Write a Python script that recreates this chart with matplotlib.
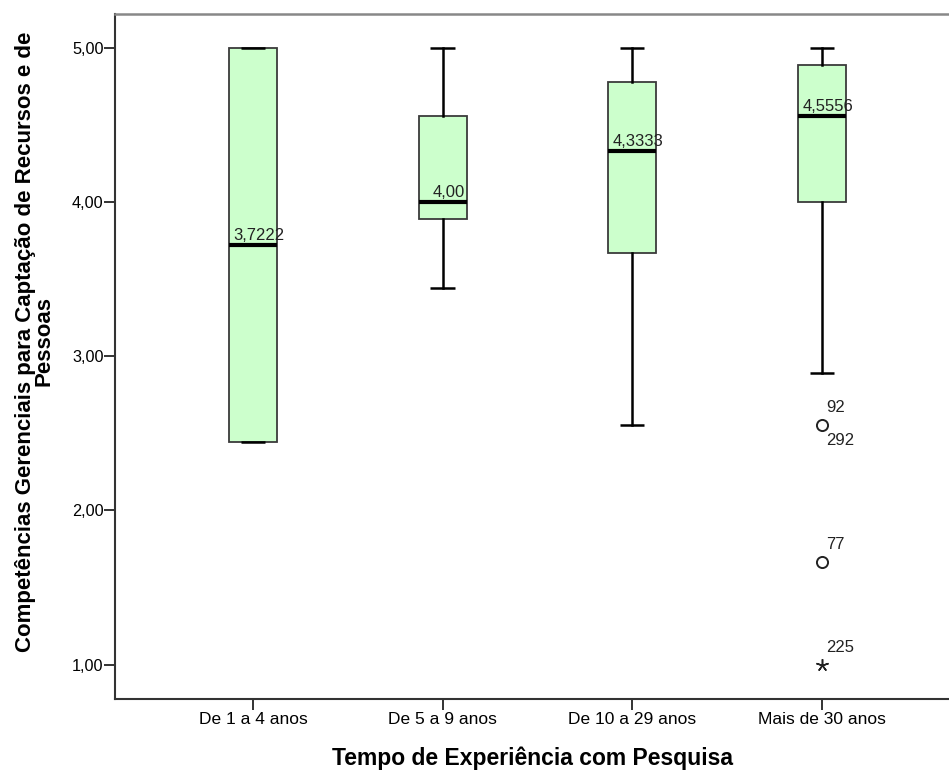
import matplotlib
matplotlib.use("Agg")
import matplotlib.pyplot as plt

plt.rcParams['font.family'] = ['Liberation Sans', 'DejaVu Sans']

# Five-number summaries per experience group
categories = ["De 1 a 4 anos", "De 5 a 9 anos", "De 10 a 29 anos", "Mais de 30 anos"]
medians = [3.7222, 4.0000, 4.3333, 4.5556]
q1 = [2.4444, 3.8889, 3.6667, 4.0000]
q3 = [5.0000, 4.5556, 4.7778, 4.8889]
whisker_low = [2.4444, 3.4444, 2.5556, 2.8889]
whisker_high = [5.0000, 5.0000, 5.0000, 5.0000]
median_labels = ["3,7222", "4,00", "4,3333", "4,5556"]

# Outliers (group index, value) and extremes
outlier_group = [3, 3]
outlier_values = [2.5556, 1.6667]
extreme_group = [3]
extreme_values = [1.0]
case_labels = [(3, 2.5556, "92", "above"), (3, 2.5556, "292", "below"),
               (3, 1.6667, "77", "above"), (3, 1.0, "225", "above")]

y_ticks = [1, 2, 3, 4, 5]
y_tick_labels = ["1,00", "2,00", "3,00", "4,00", "5,00"]

W, H = 949, 771
fig = plt.figure(figsize=(W / 100, H / 100), dpi=100)
ax = fig.add_axes([115 / W, 1 - 699 / H, 1 - 115 / W, (699 - 14) / H])

positions = list(range(1, len(categories) + 1))
stats = []
for i in range(len(categories)):
    stats.append(dict(med=medians[i], q1=q1[i], q3=q3[i],
                      whislo=whisker_low[i], whishi=whisker_high[i], fliers=[]))

fill = "#ccffcc"
ax.bxp(stats, positions=positions, widths=0.253, capwidths=0.127,
       showfliers=False, patch_artist=True,
       boxprops=dict(facecolor=fill, edgecolor="#3a3a3a", linewidth=1.3),
       medianprops=dict(color="black", linewidth=3.0, solid_capstyle="butt"),
       whiskerprops=dict(color="black", linewidth=1.8),
       capprops=dict(color="black", linewidth=1.8, solid_capstyle="butt"))

# outliers and extremes
ax.plot([positions[g] for g in outlier_group], outlier_values, linestyle="none",
        marker="o", markersize=8, markerfacecolor="none",
        markeredgecolor="#222222", markeredgewidth=1.4)
ax.plot([positions[g] for g in extreme_group], extreme_values, linestyle="none",
        marker=(5, 2, 0), markersize=9, markeredgecolor="#222222",
        markeredgewidth=1.1)

for g, v, lab, where in case_labels:
    dy = 7 if where == "above" else -6
    va = "bottom" if where == "above" else "top"
    ax.annotate(lab, (positions[g], v), xytext=(3, dy), textcoords="offset points",
                ha="left", va=va, fontsize=12, color="#222222")

for p, m, lab in zip(positions, medians, median_labels):
    ax.annotate(lab, (p, m), xytext=(4.5, 1.5), textcoords="offset points",
                ha="center", va="bottom", fontsize=12, color="#222222")

ax.set_xlim(0.272, 4.672)
ax.set_ylim(0.777, 5.219)
ax.set_xticks(positions)
ax.set_xticklabels(categories, fontsize=12.5)
ax.set_yticks(y_ticks)
ax.set_yticklabels(y_tick_labels, fontsize=11.7)
ax.tick_params(axis="both", direction="out", length=7.8, width=1.4, color="#333333")
ax.tick_params(axis="x", pad=1.5)
ax.tick_params(axis="y", pad=0.5)

ax.spines["right"].set_visible(False)
ax.spines["top"].set_color("#888888")
ax.spines["top"].set_linewidth(1.8)
for s in ("left", "bottom"):
    ax.spines[s].set_color("#333333")
    ax.spines[s].set_linewidth(1.5)

ax.set_xlabel("Tempo de Experiência com Pesquisa", fontsize=16.5, fontweight="bold",
              labelpad=14)
ax.set_ylabel("Competências Gerenciais para Captação de Recursos e de\nPessoas",
              fontsize=16, fontweight="bold", linespacing=0.9)
ax.yaxis.set_label_coords(-0.072, 0.522)

fig.savefig("out.png", dpi=100)
